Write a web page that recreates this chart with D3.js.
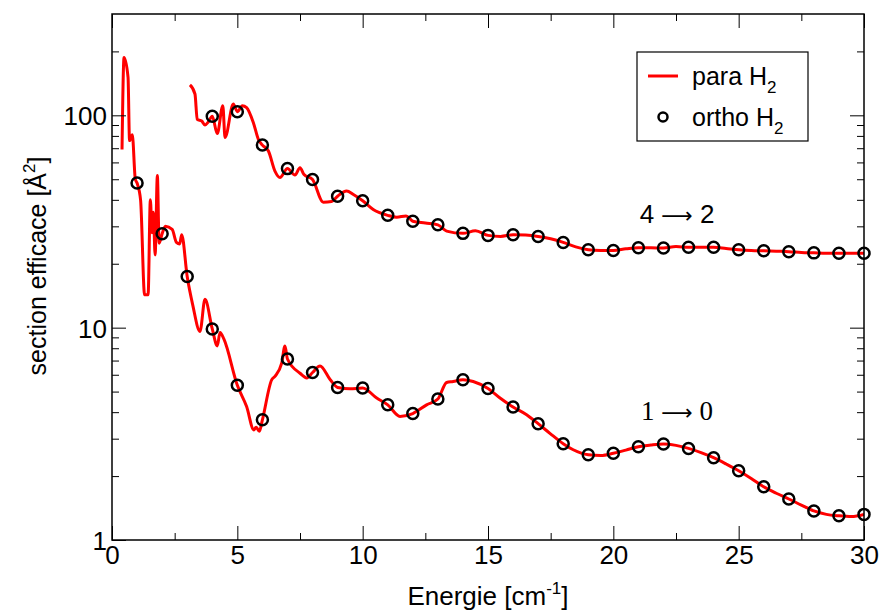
<!DOCTYPE html>
<html>
<head>
<meta charset="utf-8">
<script src="https://cdn.jsdelivr.net/npm/d3@7"></script>
<style>
    body { margin: 0; background: #ffffff; }
    svg text { font-family: "Liberation Sans", Arial, sans-serif; fill: #000; }
</style>
</head>
<body>
<div id="chart"></div>
<script>
// para H2, transition 1 -> 0 (red line)
var paraLowE = [0.40, 0.48, 0.64, 0.70, 0.81, 0.93, 1.00, 1.14, 1.30, 1.44, 1.53, 1.60, 1.65, 1.72, 1.81, 1.88,
    2.00, 2.13, 2.40, 2.57, 2.70, 2.78, 3.00, 3.22, 3.51, 3.71, 4.00, 4.20, 4.31, 4.47, 5.00, 5.37, 5.66, 5.75,
    5.88, 6.00, 6.37, 6.50, 6.77, 6.90, 7.00, 7.50, 7.77, 8.00, 8.30, 8.70, 9.00, 9.50, 10.00, 10.56, 11.00,
    11.49, 12.00, 12.55, 13.00, 13.35, 13.61, 14.00, 14.41, 15.00, 15.48, 16.00, 16.54, 17.00, 17.47, 18.00,
    18.40, 19.00, 19.50, 20.00, 20.50, 21.00, 21.50, 22.00, 22.50, 23.00, 23.50, 24.00, 24.50, 25.00, 25.50,
    26.00, 26.50, 27.00, 27.50, 28.00, 28.50, 29.00, 29.50, 30.00];
var paraLowS = [69, 187, 151, 76, 81, 50, 48, 40, 14.3, 14.3, 40, 28, 35, 22, 52, 25,
    27.7, 30, 29, 25.2, 24.8, 27.4, 17.4, 12.8, 9.6, 13.6, 9.86, 8.2, 9.5, 8.8, 5.35, 4.25, 3.30, 3.4,
    3.25, 3.68, 5.68, 5.9, 6.8, 8.2, 7.12, 6.1, 5.8, 6.15, 6.6, 5.7, 5.23, 5.15, 5.20, 4.66, 4.33,
    3.82, 3.94, 4.33, 4.61, 5.52, 5.58, 5.69, 5.58, 5.17, 4.66, 4.23, 3.89, 3.53, 3.18, 2.84,
    2.66, 2.52, 2.50, 2.56, 2.65, 2.75, 2.80, 2.83, 2.79, 2.70, 2.58, 2.44, 2.28, 2.12, 1.95,
    1.78, 1.66, 1.56, 1.46, 1.37, 1.32, 1.30, 1.29, 1.32];

// para H2, transition 4 -> 2 (red line)
var paraUpE = [3.11, 3.31, 3.40, 3.58, 3.71, 3.84, 4.00, 4.20, 4.42, 4.51, 4.84, 5.00, 5.20, 5.37, 5.64, 5.84,
    6.00, 6.24, 6.50, 6.70, 7.00, 7.30, 7.50, 7.66, 8.00, 8.43, 8.76, 9.00, 9.36, 9.63, 10.00, 10.42, 11.00,
    11.36, 11.73, 12.00, 12.50, 13.00, 13.35, 14.00, 14.50, 15.00, 15.50, 16.00, 16.50, 17.00, 17.50, 18.00,
    18.50, 19.00, 19.50, 20.00, 20.50, 21.00, 21.50, 22.00, 22.50, 23.00, 23.50, 24.00, 24.50, 25.00, 25.50,
    26.00, 26.50, 27.00, 27.50, 28.00, 28.50, 29.00, 29.50, 30.00];
var paraUpS = [139, 126, 95.7, 94, 90, 93, 99, 82, 111, 78.6, 113, 104, 111, 108.7, 92.3, 77,
    72.4, 67.9, 54.6, 50.9, 56.1, 52.3, 56.7, 52.6, 49.9, 39.0, 39.3, 41.6, 44, 42.4, 39.6, 36.0, 33.8,
    33.1, 33.6, 31.7, 31.1, 30.5, 28.5, 27.8, 28.6, 27.2, 26.9, 27.4, 27.3, 26.9, 26.2, 25.2,
    24.0, 23.3, 23.1, 23.1, 23.5, 23.8, 23.8, 23.7, 24.1, 23.9, 23.9, 23.9, 23.6, 23.3, 23.1,
    23.0, 22.9, 22.8, 22.6, 22.5, 22.4, 22.4, 22.4, 22.4];

// ortho H2 (circles)
var orthoLowE = [1, 2, 3, 4, 5, 6, 7, 8, 9, 10, 11, 12, 13, 14, 15, 16, 17, 18, 19, 20, 21, 22, 23, 24, 25, 26, 27, 28, 29, 30];
var orthoLowS = [48, 27.7, 17.4, 9.86, 5.35, 3.68, 7.12, 6.15, 5.23, 5.20, 4.33, 3.94, 4.61, 5.69, 5.17, 4.23, 3.53,
    2.84, 2.52, 2.56, 2.75, 2.83, 2.70, 2.44, 2.12, 1.78, 1.56, 1.37, 1.30, 1.32];
var orthoUpE = [4, 5, 6, 7, 8, 9, 10, 11, 12, 13, 14, 15, 16, 17, 18, 19, 20, 21, 22, 23, 24, 25, 26, 27, 28, 29, 30];
var orthoUpS = [99, 104, 72.4, 56.1, 49.9, 41.6, 39.6, 33.8, 31.7, 30.5, 27.8, 27.2, 27.4, 26.9, 25.2, 23.3,
    23.1, 23.8, 23.7, 23.9, 23.9, 23.3, 23.0, 22.8, 22.5, 22.4, 22.4];

// ticks
var xMajorTicks = [0, 5, 10, 15, 20, 25, 30];
var xMinorTicks = [2.5, 7.5, 12.5, 17.5, 22.5, 27.5];
var yMajorTicks = [1, 10, 100];
var yMinorTicks = [2, 3, 4, 5, 6, 7, 8, 9, 20, 30, 40, 50, 60, 70, 80, 90, 200];

var width = 882, height = 614;
var margin = {left: 112, right: 18, top: 14, bottom: 74};
var plotW = width - margin.left - margin.right,
    plotH = height - margin.top - margin.bottom;

var x = d3.scaleLinear().domain([0, 30]).range([0, plotW]);
var y = d3.scaleLog().domain([1, 300]).range([plotH, 0]);

var svg = d3.select("#chart").append("svg")
    .attr("width", width)
    .attr("height", height);

var g = svg.append("g").attr("transform", "translate(" + margin.left + "," + margin.top + ")");

function zip(a, b) {
    return a.map(function (v, i) { return [v, b[i]]; });
}

var line = d3.line()
    .x(function (d) { return x(d[0]); })
    .y(function (d) { return y(d[1]); })
    .curve(d3.curveMonotoneX);

g.append("defs").append("clipPath").attr("id", "clip")
    .append("rect").attr("width", plotW).attr("height", plotH);

var plot = g.append("g").attr("clip-path", "url(#clip)");

[zip(paraLowE, paraLowS), zip(paraUpE, paraUpS)].forEach(function (pts) {
    plot.append("path")
        .datum(pts)
        .attr("d", line)
        .attr("fill", "none")
        .attr("stroke", "#ff0000")
        .attr("stroke-width", 3)
        .attr("stroke-linejoin", "round");
});

var circles = zip(orthoLowE, orthoLowS).concat(zip(orthoUpE, orthoUpS));
g.append("g").selectAll("circle").data(circles)
    .enter().append("circle")
    .attr("cx", function (d) { return x(d[0]); })
    .attr("cy", function (d) { return y(d[1]); })
    .attr("r", 5.5)
    .attr("fill", "none")
    .attr("stroke", "#000")
    .attr("stroke-width", 2.5);

// axes: ticks pointing inward on all four sides, labels only bottom / left
function noText(sel) { sel.selectAll("text").remove(); sel.select(".domain").remove(); }

var xBottom = d3.axisBottom(x).tickValues(xMajorTicks).tickSize(-14).tickPadding(6).tickFormat(d3.format("d"));
var xBottomMinor = d3.axisBottom(x).tickValues(xMinorTicks).tickSize(-7).tickFormat("");
var xTop = d3.axisTop(x).tickValues(xMajorTicks).tickSize(-14).tickFormat("");
var xTopMinor = d3.axisTop(x).tickValues(xMinorTicks).tickSize(-7).tickFormat("");
var yLeft = d3.axisLeft(y).tickValues(yMajorTicks).tickSize(-14).tickPadding(5).tickFormat(d3.format("d"));
var yLeftMinor = d3.axisLeft(y).tickValues(yMinorTicks).tickSize(-7).tickFormat("");
var yRight = d3.axisRight(y).tickValues(yMajorTicks).tickSize(-14).tickFormat("");
var yRightMinor = d3.axisRight(y).tickValues(yMinorTicks).tickSize(-7).tickFormat("");

var axX = g.append("g").attr("transform", "translate(0," + plotH + ")").call(xBottom);
g.append("g").attr("transform", "translate(0," + plotH + ")").call(xBottomMinor).call(noText);
g.append("g").call(xTop).call(noText);
g.append("g").call(xTopMinor).call(noText);
var axY = g.append("g").call(yLeft);
g.append("g").call(yLeftMinor).call(noText);
g.append("g").attr("transform", "translate(" + plotW + ",0)").call(yRight).call(noText);
g.append("g").attr("transform", "translate(" + plotW + ",0)").call(yRightMinor).call(noText);

axX.select(".domain").remove();
axY.select(".domain").remove();
g.selectAll(".tick line").attr("stroke", "#000").attr("stroke-width", 1);
axX.selectAll("text").attr("font-size", 26).attr("font-family", "Liberation Sans");
axY.selectAll("text").attr("font-size", 26).attr("font-family", "Liberation Sans").attr("dy", "0.36em");

// frame
g.append("rect")
    .attr("width", plotW).attr("height", plotH)
    .attr("fill", "none").attr("stroke", "#000").attr("stroke-width", 1.5);

// axis titles
var xt = svg.append("text")
    .attr("x", margin.left + plotW / 2)
    .attr("y", 605)
    .attr("text-anchor", "middle")
    .attr("font-size", 26);
xt.append("tspan").text("Energie [cm");
xt.append("tspan").attr("font-size", 17).attr("dy", -11).text("-1");
xt.append("tspan").attr("dy", 11).text("]");

var yt = svg.append("text")
    .attr("transform", "translate(46,266) rotate(-90)")
    .attr("text-anchor", "middle")
    .attr("font-size", 25);
yt.append("tspan").text("section efficace [Å");
yt.append("tspan").attr("font-size", 17).attr("dy", -11).text("2");
yt.append("tspan").attr("dy", 11).text("]");

// curve annotations, with a long arrow as in the original symbol font
var t42 = g.append("text")
    .attr("x", x(21.05)).attr("y", y(24) - 24)
    .attr("font-size", 26);
t42.append("tspan").text("4 ");
t42.append("tspan").style("font-family", "'DejaVu Sans'").attr("font-size", 22).text("\u27F6");
t42.append("tspan").text(" 2");

var t10 = g.append("text")
    .attr("x", x(21.1)).attr("y", y(2.8) - 25)
    .attr("font-size", 27)
    .style("font-family", "'Liberation Serif', serif");
t10.append("tspan").text("1 ");
t10.append("tspan").style("font-family", "'DejaVu Sans'").attr("font-size", 22).text("\u27F6");
t10.append("tspan").text(" 0");

// legend
var lg = svg.append("g").attr("transform", "translate(637,52)");
lg.append("rect")
    .attr("width", 171).attr("height", 89)
    .attr("fill", "#fff").attr("stroke", "#000").attr("stroke-width", 1.2);
lg.append("line")
    .attr("x1", 11).attr("x2", 41).attr("y1", 24).attr("y2", 24)
    .attr("stroke", "#ff0000").attr("stroke-width", 3);
lg.append("circle")
    .attr("cx", 26).attr("cy", 65).attr("r", 4.5)
    .attr("fill", "none").attr("stroke", "#000").attr("stroke-width", 2.5);

var legendNames = ["para H", "ortho H"];
legendNames.forEach(function (name, i) {
    var t = lg.append("text")
        .attr("x", 55).attr("y", 33 + i * 41)
        .attr("font-size", 25);
    t.append("tspan").text(name);
    t.append("tspan").attr("font-size", 17).attr("dy", 8).text("2");
});
</script>
</body>
</html>
